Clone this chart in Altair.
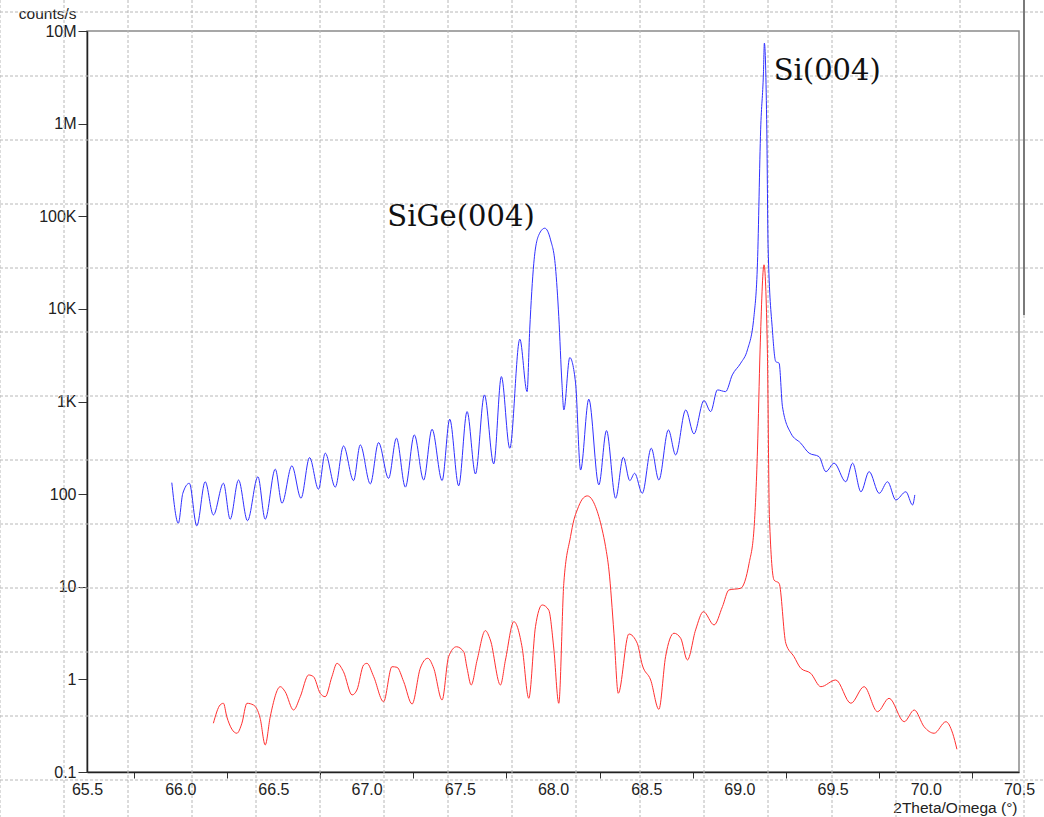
import altair as alt
import pandas as pd

# ---- data ----
blue_x = [65.955, 65.990, 66.014, 66.049, 66.089, 66.134, 66.178, 66.232, 66.268, 66.313,
          66.361, 66.417, 66.456, 66.510, 66.546, 66.599, 66.648, 66.694, 66.742, 66.778,
          66.832, 66.876, 66.930, 66.966, 67.020, 67.064, 67.118, 67.160, 67.208, 67.256,
          67.306, 67.351, 67.405, 67.446, 67.494, 67.539, 67.584, 67.632, 67.682, 67.723,
          67.768, 67.822, 67.861, 67.875, 67.897, 67.924, 67.956, 67.987, 68.013, 68.031,
          68.048, 68.058, 68.090,
          68.121, 68.148, 68.192, 68.246, 68.287, 68.336, 68.377, 68.412, 68.438, 68.479,
          68.527, 68.568, 68.619, 68.658, 68.712, 68.756, 68.810, 68.846, 68.882, 68.926,
          68.962, 69.007, 69.043, 69.078, 69.097, 69.114, 69.129, 69.134, 69.147, 69.154,
          69.177, 69.195, 69.213, 69.231, 69.276, 69.329, 69.374, 69.427, 69.464, 69.508,
          69.571, 69.607, 69.652, 69.696, 69.750, 69.795, 69.839, 69.893, 69.929, 69.941]
blue_y = [133, 48.5, 102, 131, 45.4, 136, 59.6, 131, 53.6, 142,
          51.7, 154, 53.6, 186, 79.8, 202, 90.3, 248, 113, 277,
          119, 331, 140, 340, 129, 360, 148, 402, 119, 436,
          142, 502, 140, 644, 123, 778, 165, 1178, 212, 1857,
          313, 4710, 1279, 5930, 31100, 62950, 74300, 55600, 28600, 8260,
          1578, 811, 2980,
          1588, 182, 1059, 126, 485, 90.3, 250, 140, 168, 102,
          313, 142, 493, 265, 811, 447, 1023, 778, 1334, 1279,
          1937, 2592, 3606, 8260, 31400, 857000, 3510000, 7400000, 857000, 47100,
          5930, 2700, 2592, 881, 455, 355, 277, 254, 175, 216,
          136, 216, 106, 175, 102, 136, 86.5, 106, 76.4, 98]

red_x = [66.178, 66.214, 66.232, 66.250, 66.304, 66.331, 66.358, 66.393, 66.429, 66.456,
         66.483, 66.537, 66.563, 66.608, 66.644, 66.689, 66.715, 66.751, 66.778, 66.814,
         66.841, 66.876, 66.922, 66.948, 66.984, 67.002, 67.038, 67.091, 67.136, 67.163,
         67.199, 67.244, 67.288, 67.328, 67.360, 67.405, 67.440, 67.482, 67.521, 67.539,
         67.561, 67.593, 67.637, 67.664, 67.718, 67.745, 67.790, 67.835, 67.870, 67.906,
         67.942, 67.977, 68.004, 68.031, 68.058, 68.094, 68.112, 68.130, 68.157, 68.184,
         68.211, 68.228, 68.246, 68.264, 68.282,
         68.300, 68.327, 68.350, 68.407, 68.452, 68.479, 68.524, 68.568, 68.604, 68.649,
         68.685, 68.721, 68.765, 68.807, 68.864, 68.909, 68.944, 69.007, 69.052, 69.078,
         69.097, 69.111, 69.132, 69.150, 69.161, 69.186, 69.213, 69.249, 69.293, 69.329,
         69.383, 69.437, 69.517, 69.598, 69.669, 69.741, 69.803, 69.884, 69.938, 69.991,
         70.045, 70.108, 70.144, 70.167]
red_y = [0.336, 0.529, 0.552, 0.395, 0.262, 0.336, 0.552, 0.529, 0.380, 0.196,
         0.395, 0.834, 0.736, 0.467, 0.650, 1.116, 1.07, 0.708, 0.650, 1.07,
         1.49, 1.21, 0.679, 0.768, 1.43, 1.49, 1.07, 0.574, 1.37, 1.35,
         0.944, 0.542, 1.32, 1.69, 1.32, 0.599, 1.76, 2.25, 1.99, 1.32,
         0.870, 1.62, 3.36, 2.66, 0.870, 1.62, 4.20, 2.17, 0.625, 3.71,
         6.36, 5.61, 2.18, 0.552, 10.9, 34.8, 52.6, 67.5, 88.1, 95.7,
         86.5, 73.3, 57.2, 41.1, 27.1,
         15.2, 3.15, 0.708, 3.09, 2.45, 1.43, 0.985, 0.475, 1.76, 3.15,
         2.78, 1.62, 3.42, 5.38, 3.87, 6.10, 9.24, 9.63, 17.9, 41.1,
         300, 3606, 29900, 3606, 57.2, 11.8, 10.9, 2.45, 1.76, 1.32,
         1.16, 0.834, 0.985, 0.552, 0.834, 0.448, 0.625, 0.349, 0.467, 0.308,
         0.262, 0.349, 0.262, 0.176]

ann_text = ["SiGe(004)", "Si(004)"]
ann_x = [67.111, 69.184]
ann_y = [78700, 2970000]

y_ticks = [0.1, 1, 10, 100, 1e3, 1e4, 1e5, 1e6, 1e7]
x_ticks = [65.5 + 0.25 * i for i in range(21)]

# ---- layout (pixels) ----
W, H = 932, 741
PAD_L, PAD_T = 87, 31
PAD_R, PAD_B = 1044 - PAD_L - W, 817 - PAD_T - H

df = pd.DataFrame({
    "theta": blue_x + red_x,
    "counts": blue_y + red_y,
    "series": ["blue"] * len(blue_x) + ["red"] * len(red_x),
})
ann = pd.DataFrame({"text": ann_text, "x": ann_x, "y": ann_y})

# page grid of the screenshot background (decoration)
vgrid = pd.DataFrame({"gx": [v - PAD_L for v in range(0, 1045, 64)]})
hgrid = pd.DataFrame({"gy": [v - PAD_T for v in range(12, 817, 64)]})

FONT = "Liberation Sans"
xscale = alt.Scale(domain=[65.5, 70.5], nice=False, zero=False)
yscale = alt.Scale(type="log", domain=[0.1, 1e7], nice=False)

grid_v = alt.Chart(vgrid).mark_rule(color="#b8b8b8", strokeDash=[3, 2], strokeWidth=1).encode(
    x=alt.X("gx:Q", scale=None, axis=None),
    y=alt.value(-PAD_T), y2=alt.value(H + PAD_B),
)
grid_h = alt.Chart(hgrid).mark_rule(color="#b8b8b8", strokeDash=[3, 2], strokeWidth=1).encode(
    y=alt.Y("gy:Q", scale=None, axis=None),
    x=alt.value(-PAD_L), x2=alt.value(W + PAD_R),
)

lines = alt.Chart(df).mark_line(strokeWidth=1, interpolate="monotone").encode(
    x=alt.X("theta:Q", scale=xscale, axis=alt.Axis(
        values=x_ticks,
        labelExpr="(round(datum.value*4) % 2 == 0) ? format(datum.value, '.1f') : ''",
        grid=False, tickSize=6, labelPadding=3, labelFlush=False, labelOverlap=False,
        tickColor={"condition": {"test": "round(datum.value*4) % 2 == 1", "value": "#333333"},
                   "value": "transparent"},
        domainColor="#222222", domainWidth=1.5,
        labelFont=FONT, labelFontSize=16, labelColor="#222222",
        title="2Theta/Omega (°)", titleFont=FONT, titleFontSize=15.5, titleFontWeight="normal",
        titleColor="#222222", titleX=W - 2, titleY=35, titleAlign="right", titleBaseline="middle",
    )),
    y=alt.Y("counts:Q", scale=yscale, axis=alt.Axis(
        values=y_ticks,
        labelExpr="datum.value >= 1e6 ? round(datum.value/1e6) + 'M' : datum.value >= 1e3 ? round(datum.value/1e3) + 'K' : datum.value >= 1 ? round(datum.value) + '' : '0.1'",
        grid=False, tickSize=9, labelPadding=2, labelFlush=False, labelOverlap=False,
        tickColor="#333333", domainColor="#222222", domainWidth=1.5,
        labelFont=FONT, labelFontSize=16, labelColor="#222222",
        title="counts/s", titleFont=FONT, titleFontSize=15.5, titleFontWeight="normal",
        titleColor="#222222", titleAngle=0, titleX=-11, titleY=-18,
        titleAlign="right", titleBaseline="middle",
    )),
    color=alt.Color("series:N", scale=alt.Scale(domain=["blue", "red"],
                                                range=["#3030ff", "#ff3030"]), legend=None),
)

labels = alt.Chart(ann).mark_text(font="DejaVu Serif", fontSize=29, align="left",
                                  baseline="alphabetic", color="#111111").encode(
    x=alt.X("x:Q", scale=xscale),
    y=alt.Y("y:Q", scale=yscale),
    text="text:N",
)

edge = alt.Chart(ann).mark_rule(color="#7a7a7a", strokeWidth=2).encode(
    x=alt.value(1024 - PAD_L), y=alt.value(-PAD_T), y2=alt.value(315 - PAD_T)
)

chart = alt.layer(grid_v, grid_h, lines, labels, edge).properties(
    width=W, height=H,
    padding={"left": PAD_L, "top": PAD_T, "right": PAD_R, "bottom": PAD_B},
    autosize=alt.AutoSizeParams(type="none"),
    background="white",
).configure_view(stroke="#8a8a8a", strokeWidth=1.5)

chart.save("out.html", embed_options={"renderer": "svg", "actions": False})
